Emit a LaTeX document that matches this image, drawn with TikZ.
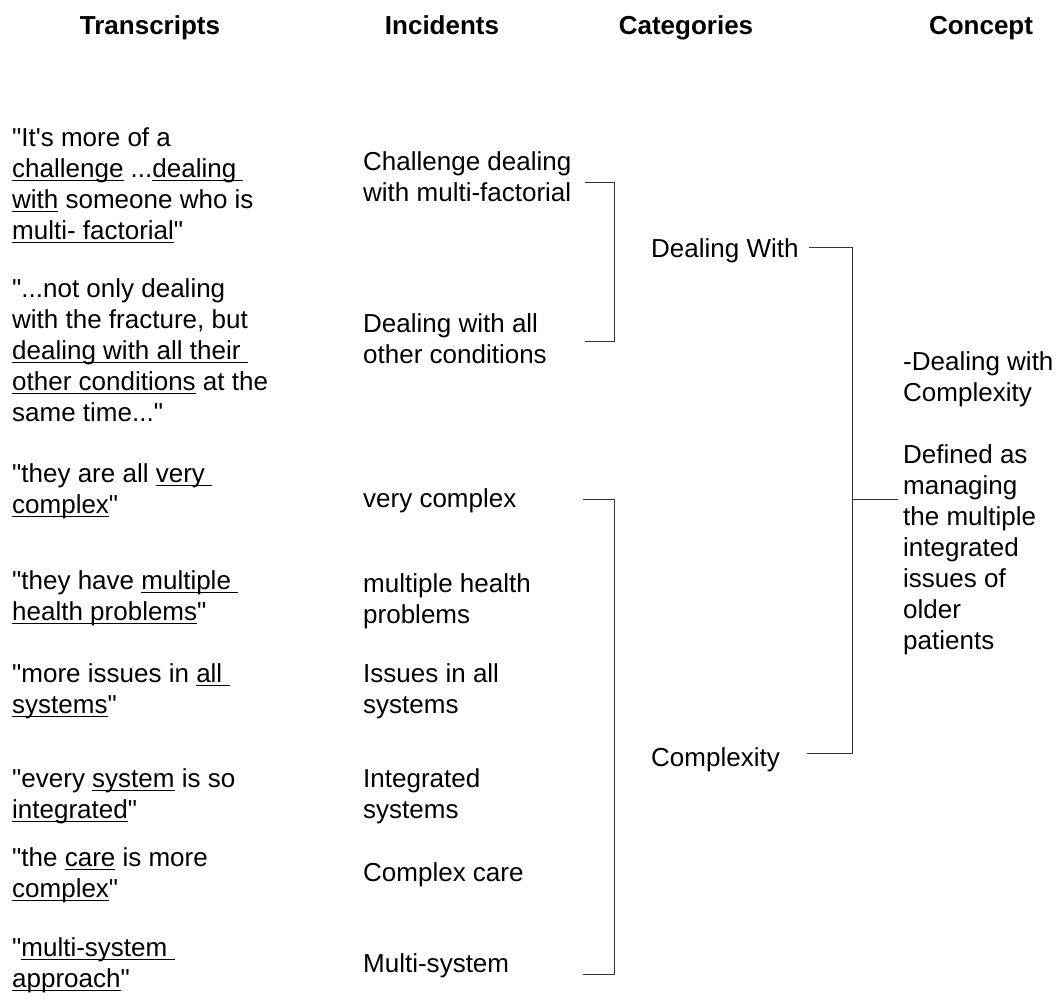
\documentclass[tikz,border=0pt]{standalone}
\usepackage{fontspec}
\newfontfamily\arialf{Liberation Sans}
\newcommand\uln[1]{\setbox0\hbox{#1}\rlap{\rule[-4pt]{\wd0}{1.5pt}}\box0\relax}
\newcommand\blk[1]{\vtop{\baselineskip=31pt\lineskiplimit=-20pt\halign{##\hfil\cr#1\crcr}}}
\tikzset{
  txt/.style={anchor=base west, inner sep=0pt, font=\arialf\fontsize{26}{31}\selectfont},
  hdr/.style={anchor=base, inner sep=0pt, font=\arialf\bfseries\fontsize{26}{31}\selectfont},
  brk/.style={draw=black!80, line width=1pt}
}
\begin{document}
\begin{tikzpicture}[x=1pt,y=-1pt]
\useasboundingbox (0,0) rectangle (1062,1004);
% headers
\node[hdr] (h1) at (150,34) {Transcripts};
\node[hdr] (h2) at (442,34) {Incidents};
\node[hdr] (h3) at (686,34) {Categories};
\node[hdr] (h4) at (981,34) {Concept};
% transcripts
\node[txt] (t1) at (12,146) {\blk{"It's more of a\cr \uln{challenge} ...\uln{dealing\ }\cr \uln{with} someone who is\cr \uln{multi- factorial}"}};
\node[txt] (t2) at (12,297) {\blk{"...not only dealing\cr with the fracture, but\cr \uln{dealing with all their\ }\cr \uln{other conditions} at the\cr same time..."}};
\node[txt] (t3) at (12,482) {\blk{"they are all \uln{very\ }\cr \uln{complex}"}};
\node[txt] (t4) at (12,589) {\blk{"they have \uln{multiple\ }\cr \uln{health problems}"}};
\node[txt] (t5) at (12,682) {\blk{"more issues in \uln{all\ }\cr \uln{systems}"}};
\node[txt] (t6) at (12,787) {\blk{"every \uln{system} is so\cr \uln{integrated}"}};
\node[txt] (t7) at (12,866) {\blk{"the \uln{care} is more\cr \uln{complex}"}};
\node[txt] (t8) at (12,956) {\blk{"\uln{multi-system\ }\cr \uln{approach}"}};
% incidents
\node[txt] (i1) at (363,170) {\blk{Challenge dealing\cr with multi-factorial}};
\node[txt] (i2) at (363,332) {\blk{Dealing with all\cr other conditions}};
\node[txt] (i3) at (363,507) {very complex};
\node[txt] (i4) at (363,592) {\blk{multiple health\cr problems}};
\node[txt] (i5) at (363,682) {\blk{Issues in all\cr systems}};
\node[txt] (i6) at (363,787) {\blk{Integrated\cr systems}};
\node[txt] (i7) at (363,881) {Complex care};
\node[txt] (i8) at (363,972) {Multi-system};
% categories
\node[txt] (c1) at (651,257) {Dealing With};
\node[txt] (c2) at (651,766) {Complexity};
% concept
\node[txt] (k1) at (903,370) {\blk{-Dealing with\cr Complexity\cr \cr Defined as\cr managing\cr the multiple\cr integrated\cr issues of\cr older\cr patients}};
% bracket coordinates
\coordinate (a1) at (585,182);
\coordinate (a2) at (614,182);
\coordinate (a3) at (614,341);
\coordinate (a4) at (585,341);
\coordinate (b1) at (583,499);
\coordinate (b2) at (614,499);
\coordinate (b3) at (614,974);
\coordinate (b4) at (583,974);
\coordinate (d1) at (809,247);
\coordinate (d2) at (852,247);
\coordinate (d3) at (852,753);
\coordinate (d4) at (807,753);
\coordinate (m1) at (852,499);
\coordinate (m2) at (898,499);
\draw[brk] (a1) -- (a2) -- (a3) -- (a4);
\draw[brk] (b1) -- (b2) -- (b3) -- (b4);
\draw[brk] (d1) -- (d2) -- (d3) -- (d4);
\draw[brk] (m1) -- (m2);
\end{tikzpicture}
\end{document}
